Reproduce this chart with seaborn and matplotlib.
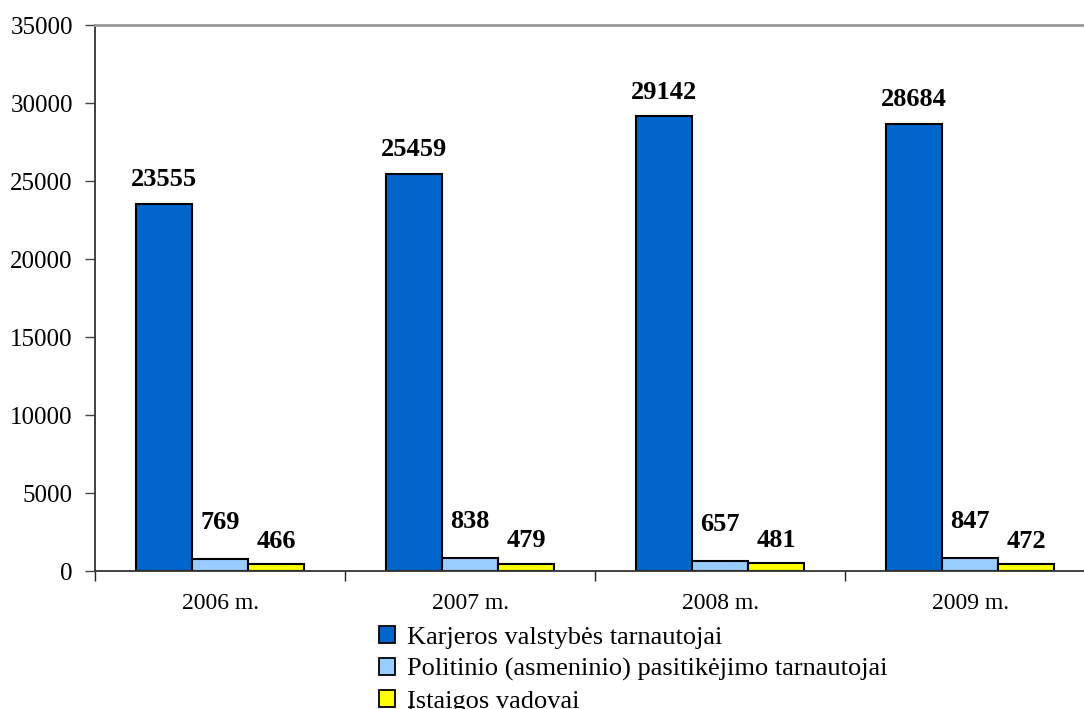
import matplotlib
matplotlib.use("Agg")
import matplotlib.pyplot as plt
import seaborn as sns
import pandas as pd
from matplotlib.patches import Patch

years = ["2006 m.", "2007 m.", "2008 m.", "2009 m."]
series = ["Karjeros valstybės tarnautojai",
          "Politinio (asmeninio) pasitikėjimo tarnautojai",
          "Įstaigos vadovai"]
karjeros = [23555, 25459, 29142, 28684]
politinio = [769, 838, 657, 847]
vadovai = [466, 479, 481, 472]
colors = ["#0066CC", "#99CCFF", "#FFFF00"]
yticks = [0, 5000, 10000, 15000, 20000, 25000, 30000, 35000]

rows = []
for s, vals in zip(series, [karjeros, politinio, vadovai]):
    for y, v in zip(years, vals):
        rows.append({"year": y, "series": s, "value": v})
df = pd.DataFrame(rows)

sns.set_style("white")
plt.rcParams["font.family"] = ["Liberation Serif", "DejaVu Serif"]
plt.rcParams["text.color"] = "black"
plt.rcParams["xtick.color"] = "black"
plt.rcParams["ytick.color"] = "black"

fig = plt.figure(figsize=(10.84, 7.09), dpi=100)
ax = fig.add_axes([95/1084, (709-571)/709, (1095-95)/1084, (571-25)/709])

sns.barplot(data=df, x="year", y="value", hue="series", palette=colors,
            saturation=1, width=0.672, edgecolor="black", linewidth=1.5,
            ax=ax, legend=False, gap=0)

pads = [9, 18, 8]
for cont, p in zip(ax.containers, pads):
    ax.bar_label(cont, fmt="%d", padding=p, fontsize=19, fontweight="bold",
                 color="black")

ax.set_xlim(-0.5, 3.5)
ax.set_ylim(0, 35000)
ax.set_yticks(yticks)
ax.set_yticklabels([str(t) for t in yticks])
ax.set_xlabel("")
ax.set_ylabel("")

ax.tick_params(axis="y", which="major", direction="out", length=7, width=1,
               color="#444444", labelcolor="black", pad=9, labelsize=18,
               left=True)
ax.set_xticks([-0.5, 0.5, 1.5, 2.5, 3.5], minor=True)
ax.tick_params(axis="x", which="minor", direction="out", length=7, width=1,
               color="#222222", bottom=True)
ax.tick_params(axis="x", which="major", length=0, pad=16, labelsize=17,
               labelcolor="black")

for side in ["left", "bottom"]:
    ax.spines[side].set_color("#333333")
    ax.spines[side].set_linewidth(1.3)
ax.spines["top"].set_color("#999999")
ax.spines["top"].set_linewidth(2)
ax.spines["right"].set_visible(False)
ax.grid(False)

handles = [Patch(facecolor=c, edgecolor="black", linewidth=1.3) for c in colors]
fig.legend(handles, series, loc="upper left",
           bbox_to_anchor=(379/1084, (709-626)/709), frameon=False,
           fontsize=19, handlelength=0.6, handleheight=0.6,
           handletextpad=0.45, labelspacing=0.35, borderpad=0, borderaxespad=0)

fig.savefig("out.png", dpi=100)
